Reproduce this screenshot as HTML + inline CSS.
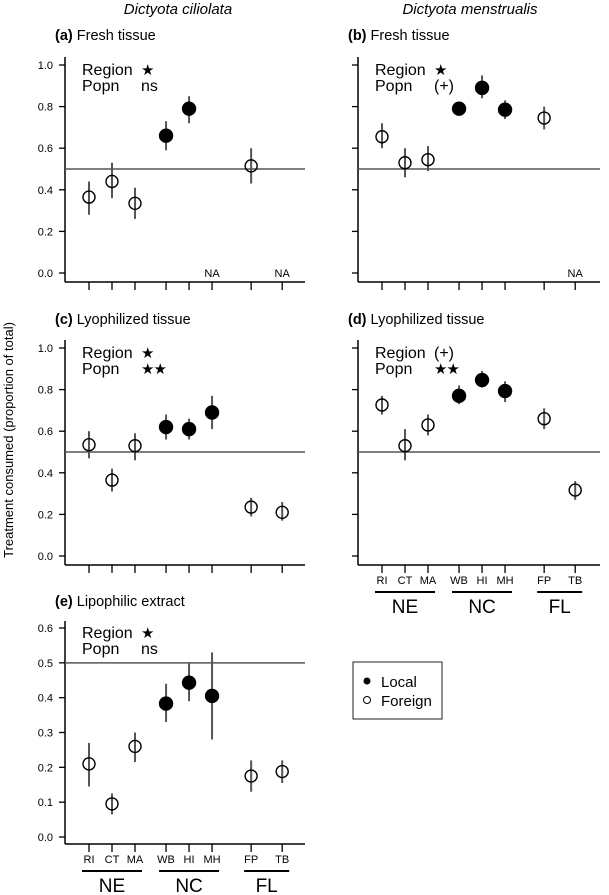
<!DOCTYPE html>
<html><head><meta charset="utf-8"><style>
body{margin:0;background:#fff}
svg{display:block;font-family:"Liberation Sans",Arial,sans-serif}
</style></head><body>
<svg id="fig" width="609" height="895" viewBox="0 0 609 895" xmlns="http://www.w3.org/2000/svg">
<text x="178" y="14" font-size="15" font-style="italic" text-anchor="middle">Dictyota ciliolata</text>
<text x="470" y="14" font-size="15" font-style="italic" text-anchor="middle">Dictyota menstrualis</text>
<text transform="translate(13,440) rotate(-90)" font-size="13" text-anchor="middle">Treatment consumed (proportion of total)</text>
<g>
<rect x="353" y="662" width="89" height="57" fill="#fff" stroke="#222" stroke-width="1"/>
<circle cx="367" cy="681" r="3.5" fill="#000"/>
<circle cx="367" cy="700" r="3.5" fill="#fff" stroke="#000"/>
<text x="381" y="687" font-size="15">Local</text>
<text x="381" y="706" font-size="15">Foreign</text>
</g>
</svg>
<script>
const categories=["RI","CT","MA","WB","HI","MH","FP","TB"];
const isLocal=[false,false,false,true,true,true,false,false];
const meanA=[0.365,0.44,0.335,0.66,0.79,null,0.515,null];
const loA=[0.28,0.36,0.26,0.59,0.72,null,0.43,null];
const hiA=[0.44,0.53,0.41,0.73,0.85,null,0.60,null];
const meanB=[0.655,0.53,0.545,0.79,0.89,0.785,0.745,null];
const loB=[0.60,0.46,0.49,0.76,0.84,0.74,0.69,null];
const hiB=[0.72,0.60,0.61,0.82,0.95,0.83,0.80,null];
const meanC=[0.535,0.365,0.53,0.62,0.61,0.69,0.235,0.21];
const loC=[0.47,0.31,0.46,0.56,0.56,0.61,0.19,0.17];
const hiC=[0.60,0.42,0.59,0.68,0.66,0.77,0.28,0.26];
const meanD=[0.726,0.53,0.63,0.77,0.846,0.793,0.66,0.317];
const loD=[0.68,0.46,0.58,0.73,0.81,0.74,0.61,0.27];
const hiD=[0.77,0.61,0.68,0.82,0.89,0.84,0.71,0.36];
const meanE=[0.21,0.095,0.26,0.383,0.443,0.405,0.175,0.188];
const loE=[0.145,0.065,0.215,0.33,0.39,0.28,0.13,0.155];
const hiE=[0.27,0.125,0.30,0.44,0.50,0.53,0.22,0.22];
const ticks1=[0,0.2,0.4,0.6,0.8,1.0];
const tickLabels1=["0.0","0.2","0.4","0.6","0.8","1.0"];
const ticksE=[0,0.1,0.2,0.3,0.4,0.5,0.6];
const tickLabelsE=["0.0","0.1","0.2","0.3","0.4","0.5","0.6"];
const groups=["NE","NC","FL"];

const NS="http://www.w3.org/2000/svg";
const svg=document.getElementById('fig');
function mk(tag,attrs,parent){const e=document.createElementNS(NS,tag);for(const k in attrs)e.setAttribute(k,attrs[k]);(parent||svg).appendChild(e);return e;}
const slot=[0,1,2,3.35,4.35,5.35,7.05,8.4];

function panel(cfg){
  const g=mk('g',{});
  
  
  const xs=i=>cfg.left+24+slot[i]*23;
  const ys=v=>cfg.y0-(v/cfg.vmax)*(cfg.y0-cfg.yTop);
  const t=mk('text',{x:cfg.left-10,y:cfg.titleY,'font-size':14.5},g);
  
  
  t.innerHTML='<tspan font-weight="bold">('+cfg.id+')</tspan> '+cfg.title;
  mk('line',{x1:cfg.left,y1:cfg.axisTop,x2:cfg.left,y2:cfg.axisY,stroke:'#000','stroke-width':1.5},g);
  mk('line',{x1:cfg.left,y1:cfg.axisY,x2:cfg.right,y2:cfg.axisY,stroke:'#000','stroke-width':1.5},g);
  cfg.ticks.forEach((v,i)=>{
    const y=ys(v);
    mk('line',{x1:cfg.left-6,y1:y,x2:cfg.left,y2:y,stroke:'#000','stroke-width':1.3},g);
    if(cfg.showYLabels){
      const l=mk('text',{x:cfg.left-12,y:y+4,'font-size':11,'text-anchor':'end'},g);
      
      
      l.textContent=cfg.tickLabels[i];
    }
  });
  categories.forEach((c,i)=>{
    mk('line',{x1:xs(i),y1:cfg.axisY,x2:xs(i),y2:cfg.axisY+8,stroke:'#000','stroke-width':1.3},g);
    if(cfg.showX){
      const l=mk('text',{x:xs(i),y:cfg.axisY+19,'font-size':11,'text-anchor':'middle'},g);
      
      
      l.textContent=c;
    }
  });
  if(cfg.showX){
    const spans=[[0,2],[3,5],[6,7]];
    groups.forEach((gn,k)=>{
      const a=xs(spans[k][0])-7,b=xs(spans[k][1])+7;
      mk('line',{x1:a,y1:cfg.axisY+27,x2:b,y2:cfg.axisY+27,stroke:'#000','stroke-width':2},g);
      const l=mk('text',{x:(a+b)/2,y:cfg.axisY+48,'font-size':19,'text-anchor':'middle'},g);
      
      
      l.textContent=gn;
    });
  }
  const r=mk('line',{x1:cfg.left,y1:ys(0.5),x2:cfg.right,y2:ys(0.5),stroke:'#555','stroke-width':1.5},g);
  
  
  const s1=mk('text',{x:cfg.left+17,y:cfg.yTop+10,'font-size':16},g);
  
  
  s1.textContent='Region';
  const s2=mk('text',{x:cfg.left+17,y:cfg.yTop+26,'font-size':16},g);
  
  
  s2.textContent='Popn';
  const star1=cfg.rs.includes('★'), star2=cfg.ps.includes('★');
  const v1=mk('text',{x:cfg.left+76,y:cfg.yTop+10,'font-size':star1?15:16,'letter-spacing':star1?-1:0,'font-family':star1?'DejaVu Sans, sans-serif':'Liberation Sans, sans-serif'},g);
  v1.textContent=cfg.rs;
  const v2=mk('text',{x:cfg.left+76,y:cfg.yTop+26,'font-size':star2?15:16,'letter-spacing':star2?-1:0,'font-family':star2?'DejaVu Sans, sans-serif':'Liberation Sans, sans-serif'},g);
  v2.textContent=cfg.ps;
  cfg.mean.forEach((m,i)=>{
    if(m===null){
      const na=mk('text',{x:xs(i),y:ys(0)+4,'font-size':11,'text-anchor':'middle'},g);
      
      
      na.textContent='NA';
      return;
    }
    const e=mk('line',{x1:xs(i),y1:ys(cfg.lo[i]),x2:xs(i),y2:ys(cfg.hi[i]),stroke:'#555','stroke-width':2},g);
    
    
    const p=mk('circle',{cx:xs(i),cy:ys(m),r:isLocal[i]?6.5:6,fill:isLocal[i]?'#000':'#fff','fill-opacity':isLocal[i]?1:0,stroke:'#000','stroke-width':1.4},g);
    
    
  });
}
panel({id:'a',title:'Fresh tissue',titleY:40,left:65,right:305,yTop:65,y0:273,axisTop:57,axisY:282,vmax:1,ticks:ticks1,tickLabels:tickLabels1,showYLabels:true,showX:false,mean:meanA,lo:loA,hi:hiA,rs:'★',ps:'ns'});
panel({id:'b',title:'Fresh tissue',titleY:40,left:358,right:600,yTop:65,y0:273,axisTop:57,axisY:282,vmax:1,ticks:ticks1,tickLabels:tickLabels1,showYLabels:false,showX:false,mean:meanB,lo:loB,hi:hiB,rs:'★',ps:'(+)'});
panel({id:'c',title:'Lyophilized tissue',titleY:324,left:65,right:305,yTop:348,y0:556,axisTop:340,axisY:565,vmax:1,ticks:ticks1,tickLabels:tickLabels1,showYLabels:true,showX:false,mean:meanC,lo:loC,hi:hiC,rs:'★',ps:'★★'});
panel({id:'d',title:'Lyophilized tissue',titleY:324,left:358,right:600,yTop:348,y0:556,axisTop:340,axisY:565,vmax:1,ticks:ticks1,tickLabels:tickLabels1,showYLabels:false,showX:true,mean:meanD,lo:loD,hi:hiD,rs:'(+)',ps:'★★'});
panel({id:'e',title:'Lipophilic extract',titleY:606,left:65,right:305,yTop:628,y0:837,axisTop:621,axisY:844,vmax:0.6,ticks:ticksE,tickLabels:tickLabelsE,showYLabels:true,showX:true,mean:meanE,lo:loE,hi:hiE,rs:'★',ps:'ns'});
</script>
</body></html>
